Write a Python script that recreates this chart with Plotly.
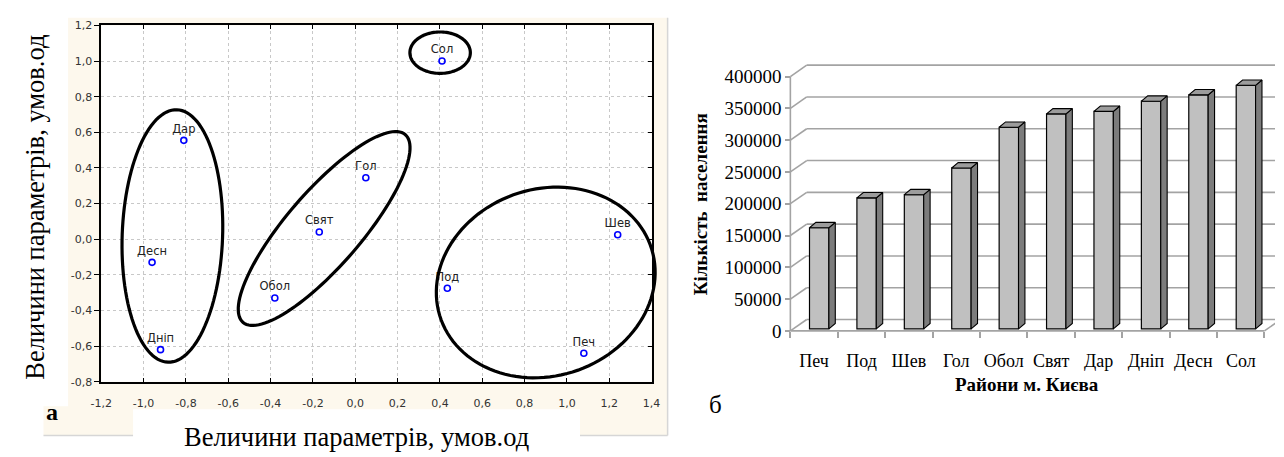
import numpy as np
import plotly.graph_objects as go

FIG_W, FIG_H = 1284, 457

# ---------------- panel (а): districts in parameter space ----------------
districts = ["Сол", "Дар", "Гол", "Свят", "Десн", "Обол", "Дніп", "Под", "Печ", "Шев"]
param_1 = [0.41, -0.81, 0.05, -0.17, -0.96, -0.38, -0.92, 0.435, 1.08, 1.24]
param_2 = [1.00, 0.555, 0.345, 0.04, -0.13, -0.33, -0.62, -0.275, -0.64, 0.025]

param_1_ticks = [-1.2, -1.0, -0.8, -0.6, -0.4, -0.2, 0.0, 0.2, 0.4, 0.6, 0.8, 1.0, 1.2, 1.4]
param_2_ticks = [-0.8, -0.6, -0.4, -0.2, 0.0, 0.2, 0.4, 0.6, 0.8, 1.0, 1.2]

# cluster outlines: centre (parameter units), semi-axes (px), tilt (deg)
clusters = [
    dict(cx=0.401, cy=1.047, a=30.7, b=21.3, tilt=0.0),
    dict(cx=-0.864, cy=0.018, a=130.0, b=51.0, tilt=88.0),
    dict(cx=-0.147, cy=0.060, a=127.0, b=38.0, tilt=49.6),
    dict(cx=0.900, cy=-0.243, a=113.0, b=96.0, tilt=20.0),
]

# ---------------- panel (б): population of Kyiv districts ----------------
pop_districts = ["Печ", "Под", "Шев", "Гол", "Обол", "Свят", "Дар", "Дніп", "Десн", "Сол"]
population = [159000, 206000, 211000, 253000, 317000, 338000, 342000, 358000, 368000, 383000]
population_ticks = [0, 50000, 100000, 150000, 200000, 250000, 300000, 350000, 400000]


def comma(v):
    return f"{v:.1f}".replace(".", ",")


# ---------------- geometry (pixels of the page) ----------------
A_LEFT, A_RIGHT, A_TOP, A_BOTTOM = 91.7, 650.7, 20.0, 386.7
A_XR = [-1.2, 1.4]
A_YR = [-0.8, 1.2]

B_AXIS_X = 791.7          # front vertical axis
B_FLOOR_Y = 334.4         # front floor edge
B_CAT_PX = 48.16          # px per category
B_VAL_PX = 261.8 / 400000  # px per person
B_DOM_LEFT, B_DOM_TOP, B_DOM_BOTTOM = 780.0, 50.0, 345.0

WALL_DX = 16.6 / B_CAT_PX
WALL_DY = 11.7 / B_VAL_PX
BAR_DX = 6.5 / B_CAT_PX
BAR_DY = 5.5 / B_VAL_PX
BAR_LIFT = 2.1 / B_VAL_PX
BAR_SHIFT = 0.108
BAR_W = 0.409

b_xrange = [-(B_AXIS_X - B_DOM_LEFT) / B_CAT_PX, (FIG_W - B_AXIS_X) / B_CAT_PX]
b_yrange = [-(B_DOM_BOTTOM - B_FLOOR_Y) / B_VAL_PX, (B_FLOOR_Y - B_DOM_TOP) / B_VAL_PX]


def px(x):
    return x / FIG_W


def py(y):
    return 1 - y / FIG_H


fig = go.Figure()

# scatter of districts
fig.add_trace(go.Scatter(
    x=param_1, y=param_2, text=districts, mode="markers+text",
    textposition="top center",
    textfont=dict(family="DejaVu Sans", size=11.5, color="#222222"),
    marker=dict(symbol="circle-open", size=6, color="#0000ff",
                line=dict(color="#0000ff", width=1.6)),
    xaxis="x", yaxis="y", showlegend=False, cliponaxis=False,
))
# carrier for the right-hand tick axis
fig.add_trace(go.Scatter(x=[None], y=[None], xaxis="x", yaxis="y3",
                         showlegend=False, hoverinfo="skip"))

# front faces of the columns
bar_x = [i + 0.5 + BAR_SHIFT for i in range(len(pop_districts))]
fig.add_trace(go.Bar(
    x=bar_x, y=population, base=BAR_LIFT, width=BAR_W,
    marker=dict(color="#c0c0c0", line=dict(color="#000000", width=1.2)),
    xaxis="x2", yaxis="y2", showlegend=False,
))

# side and top faces of the columns
side_x, side_y, top_x, top_y = [], [], [], []
for xc, v in zip(bar_x, population):
    xl, xr = xc - BAR_W / 2, xc + BAR_W / 2
    y0, y1 = BAR_LIFT, BAR_LIFT + v
    side_x += [xr, xr + BAR_DX, xr + BAR_DX, xr, xr, None]
    side_y += [y0, y0 + BAR_DY, y1 + BAR_DY, y1, y0, None]
    top_x += [xl, xl + BAR_DX, xr + BAR_DX, xr, xl, None]
    top_y += [y1, y1 + BAR_DY, y1 + BAR_DY, y1, y1, None]
fig.add_trace(go.Scatter(x=side_x, y=side_y, mode="lines", fill="toself",
                         fillcolor="#7c7c7c", line=dict(color="#000000", width=1.1),
                         xaxis="x2", yaxis="y2", showlegend=False, hoverinfo="skip"))
fig.add_trace(go.Scatter(x=top_x, y=top_y, mode="lines", fill="toself",
                         fillcolor="#9c9c9c", line=dict(color="#000000", width=1.1),
                         xaxis="x2", yaxis="y2", showlegend=False, hoverinfo="skip"))

shapes = []
CREAM = "#fdf8ed"
# framing of panel (а)
shapes.append(dict(type="rect", xref="paper", yref="paper", layer="below",
                   x0=px(58), x1=px(667), y0=py(442), y1=py(12),
                   fillcolor=CREAM, line=dict(width=0)))
shapes.append(dict(type="rect", xref="paper", yref="paper", layer="below",
                   x0=px(33), x1=px(124), y0=py(442), y1=py(412),
                   fillcolor=CREAM, line=dict(width=0)))
shapes.append(dict(type="rect", xref="paper", yref="paper", layer="below",
                   x0=px(124), x1=px(578), y0=py(458), y1=py(415),
                   fillcolor="#ffffff", line=dict(width=0)))
shapes.append(dict(type="rect", xref="paper", yref="paper", layer="below",
                   x0=px(A_LEFT), x1=px(A_RIGHT), y0=py(A_BOTTOM), y1=py(A_TOP),
                   fillcolor="#ffffff", line=dict(width=0)))
for (x0, y0, x1, y1) in [(667, 12, 667, 442), (578, 442, 667, 442), (33, 442, 124, 442)]:
    shapes.append(dict(type="line", xref="paper", yref="paper", layer="below",
                       x0=px(x0), y0=py(y0), x1=px(x1), y1=py(y1),
                       line=dict(color="#d6d6d6", width=1.5)))

# cluster outlines
t = np.linspace(0, 2 * np.pi, 121)
for c in clusters:
    pcx = A_LEFT + (c["cx"] - A_XR[0]) / (A_XR[1] - A_XR[0]) * (A_RIGHT - A_LEFT)
    pcy = A_BOTTOM - (c["cy"] - A_YR[0]) / (A_YR[1] - A_YR[0]) * (A_BOTTOM - A_TOP)
    th = np.radians(c["tilt"])
    ex = pcx + c["a"] * np.cos(t) * np.cos(th) - c["b"] * np.sin(t) * np.sin(th)
    ey = pcy - (c["a"] * np.cos(t) * np.sin(th) + c["b"] * np.sin(t) * np.cos(th))
    path = "M " + " L ".join(f"{px(a):.5f},{py(b):.5f}" for a, b in zip(ex, ey)) + " Z"
    shapes.append(dict(type="path", xref="paper", yref="paper", path=path,
                       line=dict(color="#000000", width=3.2), layer="above"))

# walls and floor of panel (б)
GRID = dict(color="#a3a3a3", width=1.6)
for v in population_ticks:
    shapes.append(dict(type="line", xref="x2", yref="y2", layer="between",
                       x0=WALL_DX, y0=v + WALL_DY, x1=b_xrange[1] + 1, y1=v + WALL_DY, line=GRID))
    shapes.append(dict(type="line", xref="x2", yref="y2", layer="between",
                       x0=0, y0=v, x1=WALL_DX, y1=v + WALL_DY, line=GRID))
n_cat = len(pop_districts)
shapes.append(dict(type="line", xref="x2", yref="y2", layer="between",
                   x0=0, y0=0, x1=0, y1=population_ticks[-1], line=GRID))
shapes.append(dict(type="line", xref="x2", yref="y2", layer="between",
                   x0=0, y0=0, x1=n_cat, y1=0, line=GRID))
shapes.append(dict(type="line", xref="x2", yref="y2", layer="between",
                   x0=n_cat, y0=0, x1=n_cat + WALL_DX, y1=WALL_DY, line=GRID))

SERIF = "Liberation Serif"


def label(text, x, y, size, angle=0):
    return dict(text=text, x=px(x), y=py(y), xref="paper", yref="paper",
                xanchor="center", yanchor="middle", textangle=angle, showarrow=False,
                font=dict(family=SERIF, size=size, color="#000000"))


annotations = [
    label("Величини параметрів, умов.од", 25, 207, 26.5, -90),
    label("Величини параметрів, умов.од", 351, 444, 26.5),
    label("<b>а</b>", 42, 418, 24),
    label("б", 716, 410, 25),
    label("<b>Кількість  населення</b>", 700, 204, 19, -90),
    label("<b>Райони м. Києва</b>", 1032, 390, 19),
]

TICKFONT_A = dict(family="DejaVu Sans", size=11, color="#333333")
fig.update_layout(
    width=FIG_W, height=FIG_H,
    margin=dict(l=0, r=0, t=0, b=0),
    paper_bgcolor="#ffffff", plot_bgcolor="#ffffff",
    showlegend=False,
    shapes=shapes, annotations=annotations,
    xaxis=dict(domain=[px(A_LEFT), px(A_RIGHT)], range=A_XR, anchor="y",
               tickmode="array", tickvals=param_1_ticks,
               ticktext=[comma(v) for v in param_1_ticks],
               ticks="inside", ticklen=4, tickwidth=1.3, tickcolor="#000000",
               showline=True, linecolor="#000000", linewidth=1.8, mirror="ticks",
               showgrid=True, gridcolor="#c8c8c8", griddash="dot", gridwidth=1,
               zeroline=False, tickfont=TICKFONT_A, ticklabelstandoff=10),
    yaxis=dict(domain=[py(A_BOTTOM), py(A_TOP)], range=A_YR, anchor="x",
               tickmode="array", tickvals=param_2_ticks,
               ticktext=[comma(v) for v in param_2_ticks],
               ticks="outside", ticklen=5, tickwidth=1.3, tickcolor="#000000",
               showline=True, linecolor="#000000", linewidth=1.8, mirror=True,
               showgrid=True, gridcolor="#c8c8c8", griddash="dot", gridwidth=1,
               zeroline=False, tickfont=TICKFONT_A),
    yaxis3=dict(overlaying="y", side="right", anchor="x", range=A_YR,
                tickmode="array", tickvals=param_2_ticks, showticklabels=False,
                ticks="inside", ticklen=4, tickwidth=1.3, tickcolor="#000000",
                showline=False, showgrid=False, zeroline=False),
    xaxis2=dict(domain=[px(B_DOM_LEFT), 1.0], range=b_xrange, anchor="free",
                position=py(B_FLOOR_Y),
                tickmode="array", tickvals=[i + 0.5 for i in range(n_cat)],
                ticktext=pop_districts, ticks="", showline=False, showgrid=False,
                zeroline=False, ticklabelstandoff=17,
                tickfont=dict(family=SERIF, size=18, color="#000000"),
                minor=dict(tickvals=list(range(n_cat + 1)), ticks="outside", ticklen=6,
                           tickwidth=1.6, tickcolor="#a3a3a3", showgrid=False)),
    yaxis2=dict(domain=[py(B_DOM_BOTTOM), py(B_DOM_TOP)], range=b_yrange, anchor="free",
                position=px(B_AXIS_X),
                tickmode="array", tickvals=population_ticks,
                ticktext=[str(v) for v in population_ticks],
                ticks="outside", ticklen=5, tickwidth=1.6, tickcolor="#a3a3a3",
                showline=False, showgrid=False, zeroline=False,
                tickfont=dict(family=SERIF, size=19, color="#000000")),
)

fig.write_html("out.html")
